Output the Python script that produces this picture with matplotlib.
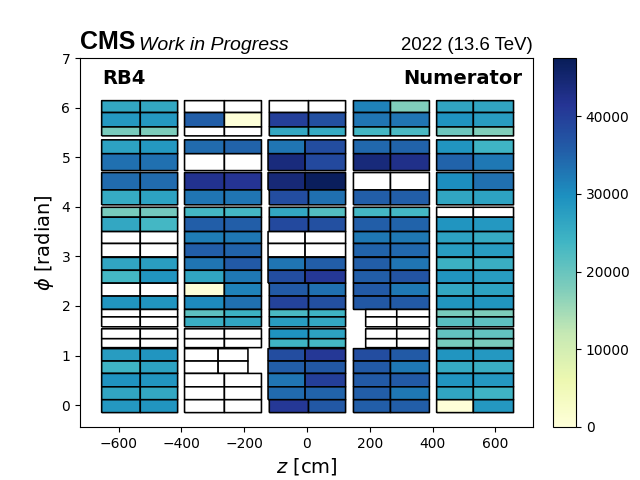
import numpy as np
import matplotlib
matplotlib.use("Agg")
import matplotlib.pyplot as plt

nan = np.nan
# phi extent (bottom, top) of every row, listed from the top of the chart downwards
phi_low = [5.90, 5.61, 5.43, 5.07, 4.73, 4.34, 4.04, 3.79, 3.50, 3.26, 2.99,
           2.72, 2.46, 2.20, 1.93, 1.78, 1.58, 1.34, 1.16, 0.89, 0.64, 0.37, 0.11, -0.15]
phi_high = [6.14, 5.90, 5.61, 5.35, 5.07, 4.69, 4.34, 3.99, 3.79, 3.50, 3.26,
            2.98, 2.72, 2.46, 2.20, 1.93, 1.78, 1.54, 1.34, 1.14, 0.89, 0.64, 0.37, 0.11]

# z edges (left, middle, right) of the chambers of each wheel
z_wm2 = [-654, -531, -412]
z_wm1 = [-390, -263, -145]
z_wm1_short = [-390, -283, -188]
z_w0_a = [-120, 5, 123]
z_w0_b = [-124, -6, 123]
z_wp1 = [148, 266, 390]
z_wp1_short = [187, 286, 390]
z_wp2 = [413, 530, 658]

wm2 = [[26000, 26000], [28500, 28500], [18500, 18000], [27000, 28500], [33500, 33500], [34000, 34000],
       [25500, 27000], [18500, 19000], [26000, 23500], [nan, nan], [nan, nan], [26500, 27500],
       [23500, 29000], [nan, nan], [29000, 29000], [nan, nan], [nan, nan], [nan, nan], [nan, nan],
       [28000, 29000], [24000, 27000], [29500, 29000], [26500, 26000], [28500, 29000]]
wm1 = [[nan, nan], [35500, 200], [nan, nan], [34000, 35000], [nan, nan], [42000, 41500],
       [33000, 33000], [23500, 23500], [35500, 35500], [32000, 32500], [35500, 35000], [33000, 36000],
       [26500, 32500], [300, 31500], [30500, 33500], [21000, 24500], [25000, 26500], [nan, nan], [nan, nan],
       [nan, nan], [nan, nan], [nan, nan], [nan, nan], [nan, nan]]
w0 = [[nan, nan], [40000, 37500], [26000, 25500], [33000, 38000], [43800, 38500], [44500, 47000],
      [38000, 33500], [26000, 22000], [38500, 37500], [nan, nan], [nan, nan], [33000, 35500],
      [38000, 41000], [36000, 33500], [39500, 37500], [23000, 24000], [28000, 26000], [29500, 27000], [24000, 23500],
      [38000, 41000], [35500, 36500], [33000, 40000], [34000, 35000], [41000, 36500]]
wp1 = [[31500, 17800], [33000, 33000], [23500, 23000], [34500, 35000], [44000, 42500], [nan, nan],
       [35500, 35500], [23500, 23500], [35500, 35000], [32500, 32500], [35000, 34500], [35500, 33000],
       [35500, 37000], [36000, 32500], [36500, 36000], [nan, nan], [nan, nan], [nan, nan], [nan, nan],
       [38000, 36000], [36000, 32500], [36000, 36000], [35500, 32500], [35500, 35500]]
wp2 = [[26500, 26500], [29500, 28000], [19500, 17800], [29000, 24000], [35000, 32500], [30000, 33500],
       [26500, 27000], [nan, nan], [29000, 28500], [27000, 25500], [28000, 28000], [24500, 25000],
       [29000, 28000], [26000, 27000], [29000, 29000], [18500, 18000], [21500, 21000], [20500, 20500], [18500, 18500],
       [29000, 28500], [25500, 25000], [29000, 28500], [26500, 24000], [300, 28500]]

# rows (0 = top) whose wheel-0 chambers are the shifted variant
w0_shifted_rows = [3, 4, 5, 9, 10, 11, 12, 19, 20, 21, 22]
wm1_short_rows = [19, 20]
wp1_short_rows = [15, 16, 17, 18]

cb_ticks = [0, 10000, 20000, 30000, 40000]
vmax = 47500

fig = plt.figure(figsize=(6.4, 4.8), dpi=100)
ax = fig.add_axes([80 / 640, 53 / 480, 453 / 640, 369 / 480])
cax = fig.add_axes([553 / 640, 53 / 480, 23 / 640, 369 / 480])

cmap = plt.get_cmap("YlGnBu").copy()
cmap.set_bad("white")


def row_mesh(edges, low, high, vals):
    m = ax.pcolormesh(edges, [low, high], np.ma.masked_invalid([vals]),
                      cmap=cmap, vmin=0, vmax=vmax, edgecolors="black", linewidth=1.15,
                      antialiased=True)
    m.set_snap(False)
    return m


mesh = None
for i in range(len(phi_low)):
    lo, hi = phi_low[i], phi_high[i]
    row_mesh(z_wm2, lo, hi, wm2[i])
    row_mesh(z_wm1_short if i in wm1_short_rows else z_wm1, lo, hi, wm1[i])
    row_mesh(z_w0_b if i in w0_shifted_rows else z_w0_a, lo, hi, w0[i])
    row_mesh(z_wp1_short if i in wp1_short_rows else z_wp1, lo, hi, wp1[i])
    mesh = row_mesh(z_wp2, lo, hi, wp2[i])

ax.set_xlim(-723, 720)
ax.set_ylim(-0.44, 7)
ax.set_xticks([-600, -400, -200, 0, 200, 400, 600])
ax.set_yticks([0, 1, 2, 3, 4, 5, 6, 7])
ax.set_xlabel(r"$z$ [cm]", fontsize=14)
ax.set_ylabel(r"$\phi$ [radian]", fontsize=14)

cb = fig.colorbar(mesh, cax=cax)
cb.set_ticks(cb_ticks)

ax.text(0.05, 0.944, "RB4", transform=ax.transAxes, fontsize=14, fontweight="bold", ha="left", va="center")
ax.text(0.976, 0.944, "Numerator", transform=ax.transAxes, fontsize=14, fontweight="bold", ha="right", va="center")

ax.text(0.0, 1.012, "CMS", transform=ax.transAxes, fontsize=18, fontweight="bold",
        family="Liberation Sans", ha="left", va="bottom")
ax.text(0.131, 1.012, "Work in Progress", transform=ax.transAxes, fontsize=14, style="italic",
        family="Liberation Sans", ha="left", va="bottom")
ax.text(1.0, 1.012, "2022 (13.6 TeV)", transform=ax.transAxes, fontsize=13.4,
        family="Liberation Sans", ha="right", va="bottom")

fig.savefig("out.png", dpi=100)
